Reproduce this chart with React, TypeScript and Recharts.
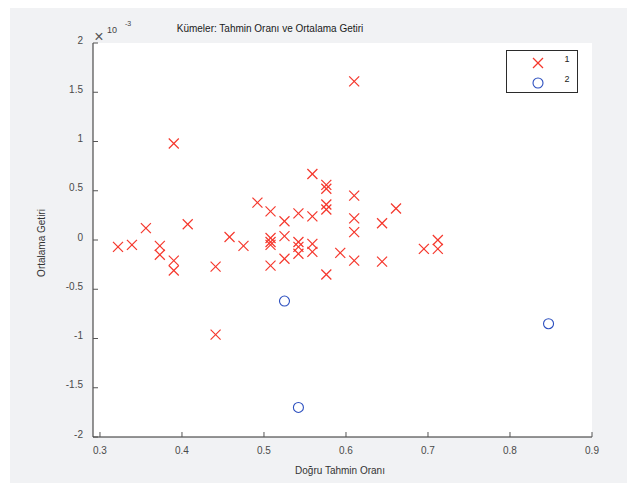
import React from "react";
import { ScatterChart, Scatter, XAxis, YAxis, CartesianGrid, Legend } from "recharts";

/* ── Küme 1 (kırmızı x) ─────────────────────────────── */
const cluster1Rate = [
  0.322, 0.339, 0.356, 0.373, 0.373, 0.390, 0.390, 0.390, 0.407, 0.441,
  0.441, 0.458, 0.475, 0.492, 0.508, 0.508, 0.508, 0.508, 0.508, 0.525,
  0.525, 0.525, 0.542, 0.542, 0.542, 0.542, 0.559, 0.559, 0.559, 0.559,
  0.576, 0.576, 0.576, 0.576, 0.576, 0.593, 0.610, 0.610, 0.610, 0.610,
  0.610, 0.644, 0.644, 0.661, 0.695, 0.712, 0.712,
];
const cluster1Return = [
  -0.07, -0.05, 0.12, -0.06, -0.15, 0.98, -0.21, -0.31, 0.16, -0.27,
  -0.96, 0.03, -0.06, 0.38, 0.29, 0.02, -0.02, -0.05, -0.26, 0.19,
  0.04, -0.19, 0.27, -0.02, -0.07, -0.14, 0.67, 0.24, -0.04, -0.12,
  0.56, 0.52, 0.36, 0.31, -0.35, -0.13, 1.61, 0.45, 0.22, 0.08,
  -0.21, 0.17, -0.22, 0.32, -0.09, 0.0, -0.09,
];

/* ── Küme 2 (mavi o) ────────────────────────────────── */
const cluster2Rate = [0.525, 0.542, 0.847];
const cluster2Return = [-0.62, -1.7, -0.85];

const xTicks = [0.3, 0.4, 0.5, 0.6, 0.7, 0.8, 0.9];
const yTicks = [-2, -1.5, -1, -0.5, 0, 0.5, 1, 1.5, 2];
const seriesNames = ["1", "2"];

const cluster1 = cluster1Rate.map((x, i) => ({ x, y: cluster1Return[i] }));
const cluster2 = cluster2Rate.map((x, i) => ({ x, y: cluster2Return[i] }));

const RED = "#f5372c";
const BLUE = "#2c4fbf";
const AXIS = "#2b2b2b";
const TICK_TEXT = "#4a4a4a";
const FONT = "'Liberation Sans', Arial, sans-serif";

const XMark = ({ cx, cy }: any) => (
  <g>
    <line x1={cx - 5} y1={cy - 5} x2={cx + 5} y2={cy + 5} stroke={RED} strokeWidth={1.2} />
    <line x1={cx - 5} y1={cy + 5} x2={cx + 5} y2={cy - 5} stroke={RED} strokeWidth={1.2} />
  </g>
);

const OMark = ({ cx, cy }: any) => (
  <circle cx={cx} cy={cy} r={5} fill="none" stroke={BLUE} strokeWidth={1.1} />
);

const BottomTick = ({ x, y, payload }: any) => (
  <g>
    <line x1={x} x2={x} y1={y} y2={y - 5} stroke="#555" />
    <text x={x} y={y + 13} dy="0.35em" textAnchor="middle" fontSize={10} fill={TICK_TEXT} fontFamily={FONT}>
      {payload.value}
    </text>
  </g>
);

const LeftTick = ({ x, y, payload }: any) => (
  <g>
    <line x1={x} x2={x + 5} y1={y} y2={y} stroke="#555" />
    <text x={x - 10} y={y - 3} dy="0.35em" textAnchor="end" fontSize={10} fill={TICK_TEXT} fontFamily={FONT}>
      {payload.value}
    </text>
  </g>
);

const TopTick = ({ x, y }: any) => <line x1={x} x2={x} y1={y} y2={y + 5} stroke="#555" />;
const RightTick = ({ x, y }: any) => <line x1={x} x2={x - 5} y1={y} y2={y} stroke="#555" />;

const LegendBox = () => (
  <svg width={72} height={43} style={{ display: "block" }}>
    <rect x={0.5} y={0.5} width={71} height={42} fill="#fff" stroke={AXIS} />
    <XMark cx={32} cy={13} />
    <text x={61} y={9} dy="0.35em" textAnchor="middle" fontSize={9} fill="#222" fontFamily={FONT}>
      {seriesNames[0]}
    </text>
    <OMark cx={32} cy={33} />
    <text x={61} y={29} dy="0.35em" textAnchor="middle" fontSize={9} fill="#222" fontFamily={FONT}>
      {seriesNames[1]}
    </text>
  </svg>
);

export default function App() {
  return (
    <div
      style={{
        position: "relative",
        width: 625,
        height: 476,
        marginLeft: 2,
        marginTop: -1,
        background: "#f1f2f4",
        fontFamily: FONT,
      }}
    >
      <ScatterChart width={625} height={476} margin={{ top: 36, right: 43, bottom: 0, left: 0 }}>
        <CartesianGrid fill="#fff" horizontal={false} vertical={false} />
        <XAxis
          type="number"
          dataKey="x"
          domain={[0.2915, 0.9]}
          allowDataOverflow
          ticks={xTicks}
          interval={0}
          height={46}
          tickSize={0}
          tickMargin={0}
          tickLine={false}
          tick={<BottomTick />}
          axisLine={{ stroke: AXIS }}
        />
        <XAxis
          xAxisId="top"
          orientation="top"
          type="number"
          domain={[0.2915, 0.9]}
          allowDataOverflow
          ticks={xTicks}
          interval={0}
          height={0}
          tickSize={0}
          tickMargin={0}
          tickLine={false}
          tick={<TopTick />}
          axisLine={{ stroke: AXIS }}
        />
        <YAxis
          type="number"
          dataKey="y"
          domain={[-2, 2]}
          allowDataOverflow
          ticks={yTicks}
          interval={0}
          width={83}
          tickSize={0}
          tickMargin={0}
          tickLine={false}
          tick={<LeftTick />}
          axisLine={{ stroke: AXIS }}
        />
        <YAxis
          yAxisId="right"
          orientation="right"
          type="number"
          domain={[-2, 2]}
          allowDataOverflow
          ticks={yTicks}
          interval={0}
          width={0}
          tickSize={0}
          tickMargin={0}
          tickLine={false}
          tick={<RightTick />}
          axisLine={{ stroke: AXIS }}
        />
        <Scatter name={seriesNames[0]} data={cluster1} shape={<XMark />} isAnimationActive={false} />
        <Scatter name={seriesNames[1]} data={cluster2} shape={<OMark />} isAnimationActive={false} />
        <Legend
          layout="vertical"
          align="center"
          verticalAlign="middle"
          content={<LegendBox />}
          wrapperStyle={{ left: 496, top: 43, width: 72, height: 43 }}
        />
      </ScatterChart>
      <svg
        width={625}
        height={476}
        style={{ position: "absolute", left: 0, top: 0, pointerEvents: "none" }}
        fontFamily={FONT}
      >
        <text x={260} y={21} dy="0.35em" textAnchor="middle" fontSize={10} fill="#1a1a1a">
          Kümeler: Tahmin Oranı ve Ortalama Getiri
        </text>
        <text x={89} y={29} dy="0.35em" textAnchor="middle" fontSize={16} fill="#555">
          ×
        </text>
        <text x={97} y={23} dy="0.35em" fontSize={9} fill="#444">
          10
        </text>
        <text x={115} y={17} dy="0.35em" fontSize={7} fill="#444">
          -3
        </text>
        <text x={330} y={463} dy="0.35em" textAnchor="middle" fontSize={10} fill="#333">
          Doğru Tahmin Oranı
        </text>
        <text
          x={31}
          y={236}
          dy="0.35em"
          textAnchor="middle"
          fontSize={10}
          fill="#333"
          transform="rotate(-90 31 236)"
        >
          Ortalama Getiri
        </text>
      </svg>
    </div>
  );
}
